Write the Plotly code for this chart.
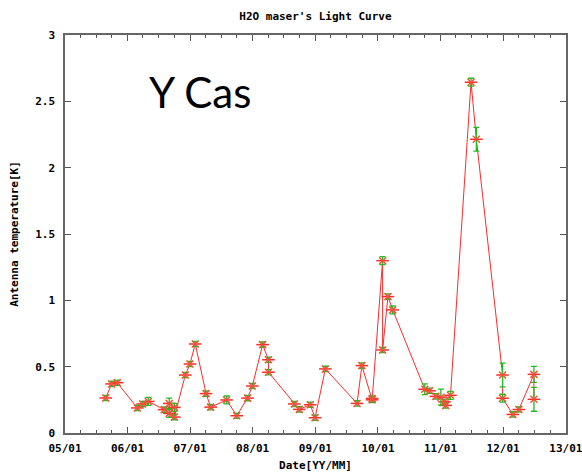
import plotly.graph_objects as go

dates = [
    "2005-08-27", "2005-09-30", "2005-11-02", "2006-02-27", "2006-03-30", "2006-05-02",
    "2006-08-03", "2006-09-01", "2006-09-01", "2006-10-01", "2006-10-01",
    "2006-12-04", "2006-12-31", "2007-01-31", "2007-04-04", "2007-05-01",
    "2007-08-02", "2007-09-30", "2007-12-02", "2007-12-30", "2008-02-28",
    "2008-04-02", "2008-04-02", "2008-08-31", "2008-09-29", "2008-12-02",
    "2008-12-30", "2009-02-28", "2009-09-01", "2009-09-29", "2009-11-28",
    "2009-11-28", "2010-01-28", "2010-01-28", "2010-02-28", "2010-03-28",
    "2010-10-01", "2010-10-29", "2010-12-05", "2011-01-03", "2011-01-24",
    "2011-01-31", "2011-02-28", "2011-06-28", "2011-07-29", "2011-12-29",
    "2011-12-29", "2012-02-27", "2012-04-02", "2012-06-29", "2012-06-29",
]
temps = [
    0.264, 0.370, 0.379, 0.189, 0.219, 0.238,
    0.176, 0.223, 0.148, 0.193, 0.120,
    0.437, 0.520, 0.671, 0.297, 0.195,
    0.249, 0.130, 0.263, 0.354, 0.666,
    0.552, 0.458, 0.219, 0.178, 0.213,
    0.115, 0.483, 0.223, 0.508, 0.260,
    0.250, 1.299, 0.626, 1.028, 0.928,
    0.330, 0.318, 0.276, 0.270, 0.235,
    0.208, 0.284, 2.644, 2.214, 0.437,
    0.262, 0.140, 0.177, 0.442, 0.254,
]
errors = [
    0.02, 0.02, 0.02, 0.02, 0.02, 0.03,
    0.02, 0.04, 0.03, 0.03, 0.02,
    0.02, 0.02, 0.02, 0.02, 0.02,
    0.03, 0.02, 0.02, 0.02, 0.02,
    0.02, 0.02, 0.02, 0.02, 0.02,
    0.02, 0.02, 0.02, 0.02, 0.02,
    0.02, 0.03, 0.02, 0.02, 0.03,
    0.04, 0.02, 0.02, 0.06, 0.02,
    0.02, 0.03, 0.03, 0.09, 0.09,
    0.03, 0.02, 0.02, 0.06, 0.09,
]

title_text = "H2O maser's Light Curve"
x_title = "Date[YY/MM]"
y_title = "Antenna temperature[K]"
label_text = "Y Cas"

mono = "DejaVu Sans Mono"

fig = go.Figure()
fig.add_trace(go.Scatter(
    x=dates, y=temps, mode="lines+markers",
    line=dict(color="#ff2a2a", width=1),
    marker=dict(symbol="line-ew-open", size=9, line=dict(color="#ff3030", width=1.5)),
    hoverinfo="skip", showlegend=False,
))
fig.add_trace(go.Scatter(
    x=dates, y=temps, mode="markers",
    marker=dict(symbol="x-thin-open", size=7, line=dict(color="#22bb22", width=1.5)),
    error_y=dict(type="data", array=errors, visible=True, color="#22bb22", thickness=1.3, width=3),
    showlegend=False,
))

fig.add_annotation(
    x=0.27, y=0.857, xref="paper", yref="paper", text=label_text, showarrow=False,
    font=dict(family="Lato", size=42, color="black"), xanchor="center", yanchor="middle",
)

fig.update_layout(
    width=582, height=472,
    margin=dict(l=65, r=16, t=35, b=39),
    paper_bgcolor="white", plot_bgcolor="white",
    title=dict(text="<b>" + title_text + "</b>", x=0.542, xanchor="center", y=0.966, yanchor="middle",
               font=dict(family=mono, size=11, color="black")),
    font=dict(family=mono, size=11, color="black"),
)
fig.update_xaxes(
    type="date", range=["2005-01-01", "2013-01-02"],
    dtick="M12", tick0="2005-01-01", tickformat="<b>%y/%m</b>",
    ticks="inside", ticklen=6, tickcolor="#555", mirror="ticks",
    showline=True, linecolor="#666", linewidth=1.5, showgrid=False, zeroline=False,
    minor=dict(dtick="M3", ticks="inside", ticklen=3, tickcolor="#555"),
    title=dict(text="<b>" + x_title + "</b>", standoff=8, font=dict(family=mono, size=11)),
    tickfont=dict(family=mono, size=11), ticklabelstandoff=4, automargin=False,
    ticklabeloverflow="allow",
)
fig.update_yaxes(
    range=[0, 3], dtick=0.5, tickformat=".1~f",
    ticks="inside", ticklen=6, tickcolor="#555", mirror="ticks",
    showline=True, linecolor="#666", linewidth=1.5, showgrid=False, zeroline=False,
    title=dict(text="<b>" + y_title + "</b>", standoff=14, font=dict(family=mono, size=11)),
    tickfont=dict(family=mono, size=11), ticklabelstandoff=6, automargin=False,
)
fig.update_yaxes(tickprefix="<b>", ticksuffix="</b>")

fig.write_html("out.html")
